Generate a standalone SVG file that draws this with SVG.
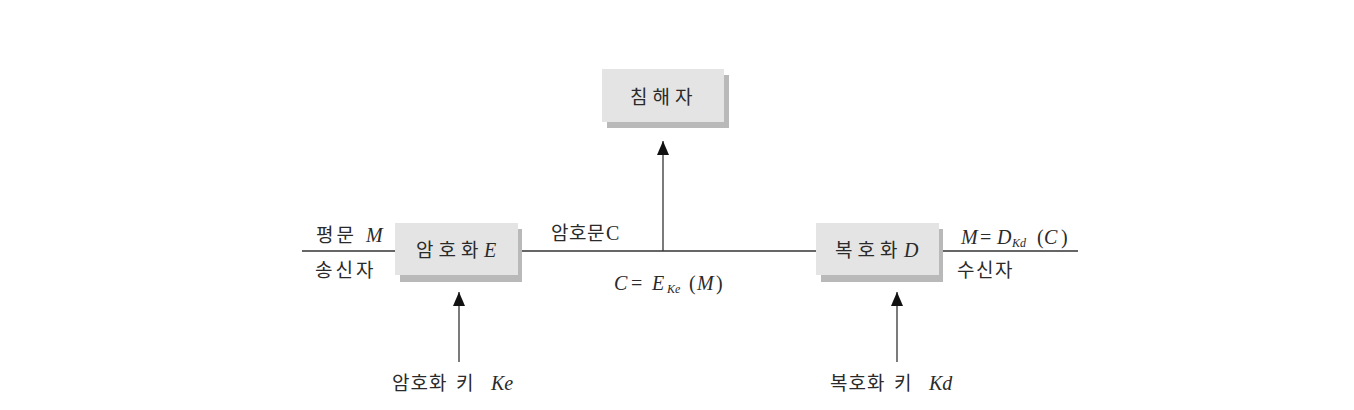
<svg xmlns="http://www.w3.org/2000/svg" width="1354" height="410" viewBox="0 0 1354 410">
<style>
.k{font-family:"Noto Sans CJK KR","Noto Sans",sans-serif;font-size:19px;fill:#2a2a2a}
.m{font-family:"Liberation Serif",serif;font-style:italic;font-size:20px;fill:#2a2a2a}
.r{font-family:"Liberation Serif",serif;font-size:20px;fill:#2a2a2a}
.s{font-family:"Liberation Serif",serif;font-style:italic;font-size:12px;fill:#2a2a2a}
.box{fill:#e4e4e4}
.sh{fill:#b9b9b9}
.ln{stroke:#333;stroke-width:1.3;fill:none}
</style>
<defs>
<marker id="ah" viewBox="0 0 14 12" refX="14" refY="6" markerWidth="14" markerHeight="12" markerUnits="userSpaceOnUse" orient="auto">
<path d="M0,0 L14,6 L0,12 Z" fill="#111"/>
</marker>
</defs>
<rect width="1354" height="410" fill="#fff"/>
<g id="connectors">
<line class="ln" x1="302" y1="251" x2="395" y2="251"/>
<line class="ln" x1="522" y1="251" x2="816" y2="251"/>
<line class="ln" x1="943" y1="251" x2="1078" y2="251"/>
<line class="ln" x1="663" y1="251" x2="663" y2="141" marker-end="url(#ah)"/>
<line class="ln" x1="459" y1="362" x2="459" y2="292" marker-end="url(#ah)"/>
<line class="ln" x1="897" y1="362" x2="897" y2="292" marker-end="url(#ah)"/>
</g>
<g id="attacker">
<rect class="sh" x="607" y="75" width="122" height="53"/>
<rect class="box" x="602" y="69" width="122" height="53"/>
<text class="k" x="630" y="104" letter-spacing="5">침해자</text>
</g>
<g id="encrypt">
<rect class="sh" x="400" y="229" width="122" height="53"/>
<rect class="box" x="395" y="223" width="123" height="52"/>
<text class="k" x="416" y="257" letter-spacing="5">암호화</text>
<text class="m" x="484" y="257">E</text>
</g>
<g id="decrypt">
<rect class="sh" x="821" y="229" width="122" height="53"/>
<rect class="box" x="816" y="223" width="123" height="52"/>
<text class="k" x="835" y="257" letter-spacing="5">복호화</text>
<text class="m" x="904" y="257">D</text>
</g>
<g id="labels">
<text class="k" x="316" y="242" letter-spacing="3">평문</text>
<text class="m" x="366" y="242">M</text>
<text class="k" x="315" y="277" letter-spacing="3">송신자</text>
<text class="k" x="551" y="240" letter-spacing="0.5">암호문</text>
<text class="r" x="606" y="240">C</text>
<text y="290"><tspan class="m" x="614">C</tspan><tspan class="r" x="631">=</tspan><tspan class="m" x="652">E</tspan><tspan class="s" x="667" y="293">Ke</tspan><tspan class="r" x="689" y="290">(</tspan><tspan class="m" x="697">M</tspan><tspan class="r" x="716">)</tspan></text>
<text y="244"><tspan class="m" x="961">M</tspan><tspan class="r" x="980">=</tspan><tspan class="m" x="997">D</tspan><tspan class="s" x="1012" y="247">Kd</tspan><tspan class="r" x="1037" y="244">(</tspan><tspan class="m" x="1044">C</tspan><tspan class="r" x="1061">)</tspan></text>
<text class="k" x="957" y="277" letter-spacing="1.5">수신자</text>
<text class="k" x="392" y="390" letter-spacing="1">암호화</text>
<text class="k" x="456" y="390">키</text>
<text class="m" x="491" y="390">Ke</text>
<text class="k" x="830" y="390" letter-spacing="1">복호화</text>
<text class="k" x="894" y="390">키</text>
<text class="m" x="929" y="390">Kd</text>
</g>
</svg>
